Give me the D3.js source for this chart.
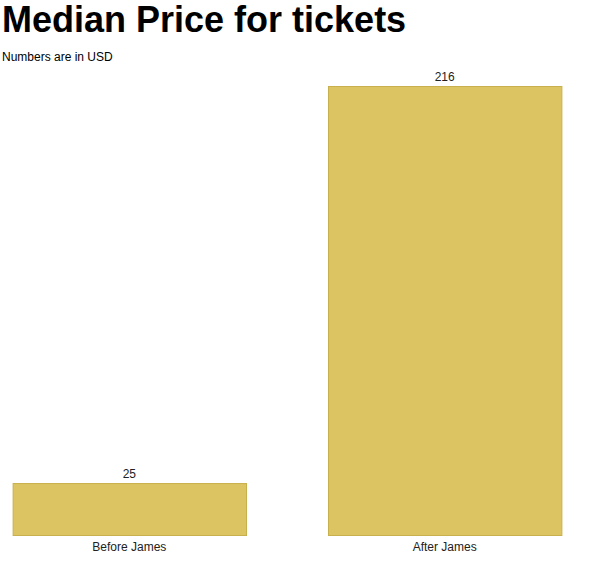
<!DOCTYPE html><html><head><meta charset="utf-8"><script src="https://cdn.jsdelivr.net/npm/d3@7"></script>
<style>body{margin:0;font-family:"Liberation Sans",Arial,sans-serif}</style></head><body><svg id="c" width="597" height="566"></svg>
<script>
const categories=["Before James","After James"];
const values=[25,216];
const svg=d3.select("#c");
svg.append("text").attr("x",2).attr("y",32).attr("font-size",36).attr("font-weight","bold").text("Median Price for tickets");
svg.append("text").attr("x",2).attr("y",61).attr("font-size",12).text("Numbers are in USD");
const x=d3.scaleBand().domain(categories).range([0,574]).paddingInner(0.26).paddingOuter(0.04);
const y=d3.scaleLinear().domain([0,216]).range([535,86]);
svg.selectAll("rect").data(values).join("rect").attr("x",(d,i)=>x(categories[i])+0.5).attr("width",x.bandwidth()).attr("y",d=>y(d)+0.5).attr("height",d=>535-y(d))
 .attr("fill","#dcc463").attr("stroke","#c9b04f");
svg.selectAll(".v").data(values).join("text").attr("x",(d,i)=>x(categories[i])+x.bandwidth()/2).attr("y",d=>y(d)-5).attr("text-anchor","middle").attr("font-size",12).attr("fill","#222").text(d=>d);
svg.selectAll(".l").data(categories).join("text").attr("x",d=>x(d)+x.bandwidth()/2).attr("y",551).attr("text-anchor","middle").attr("font-size",12).attr("fill","#222").text(d=>d);
</script></body></html>
